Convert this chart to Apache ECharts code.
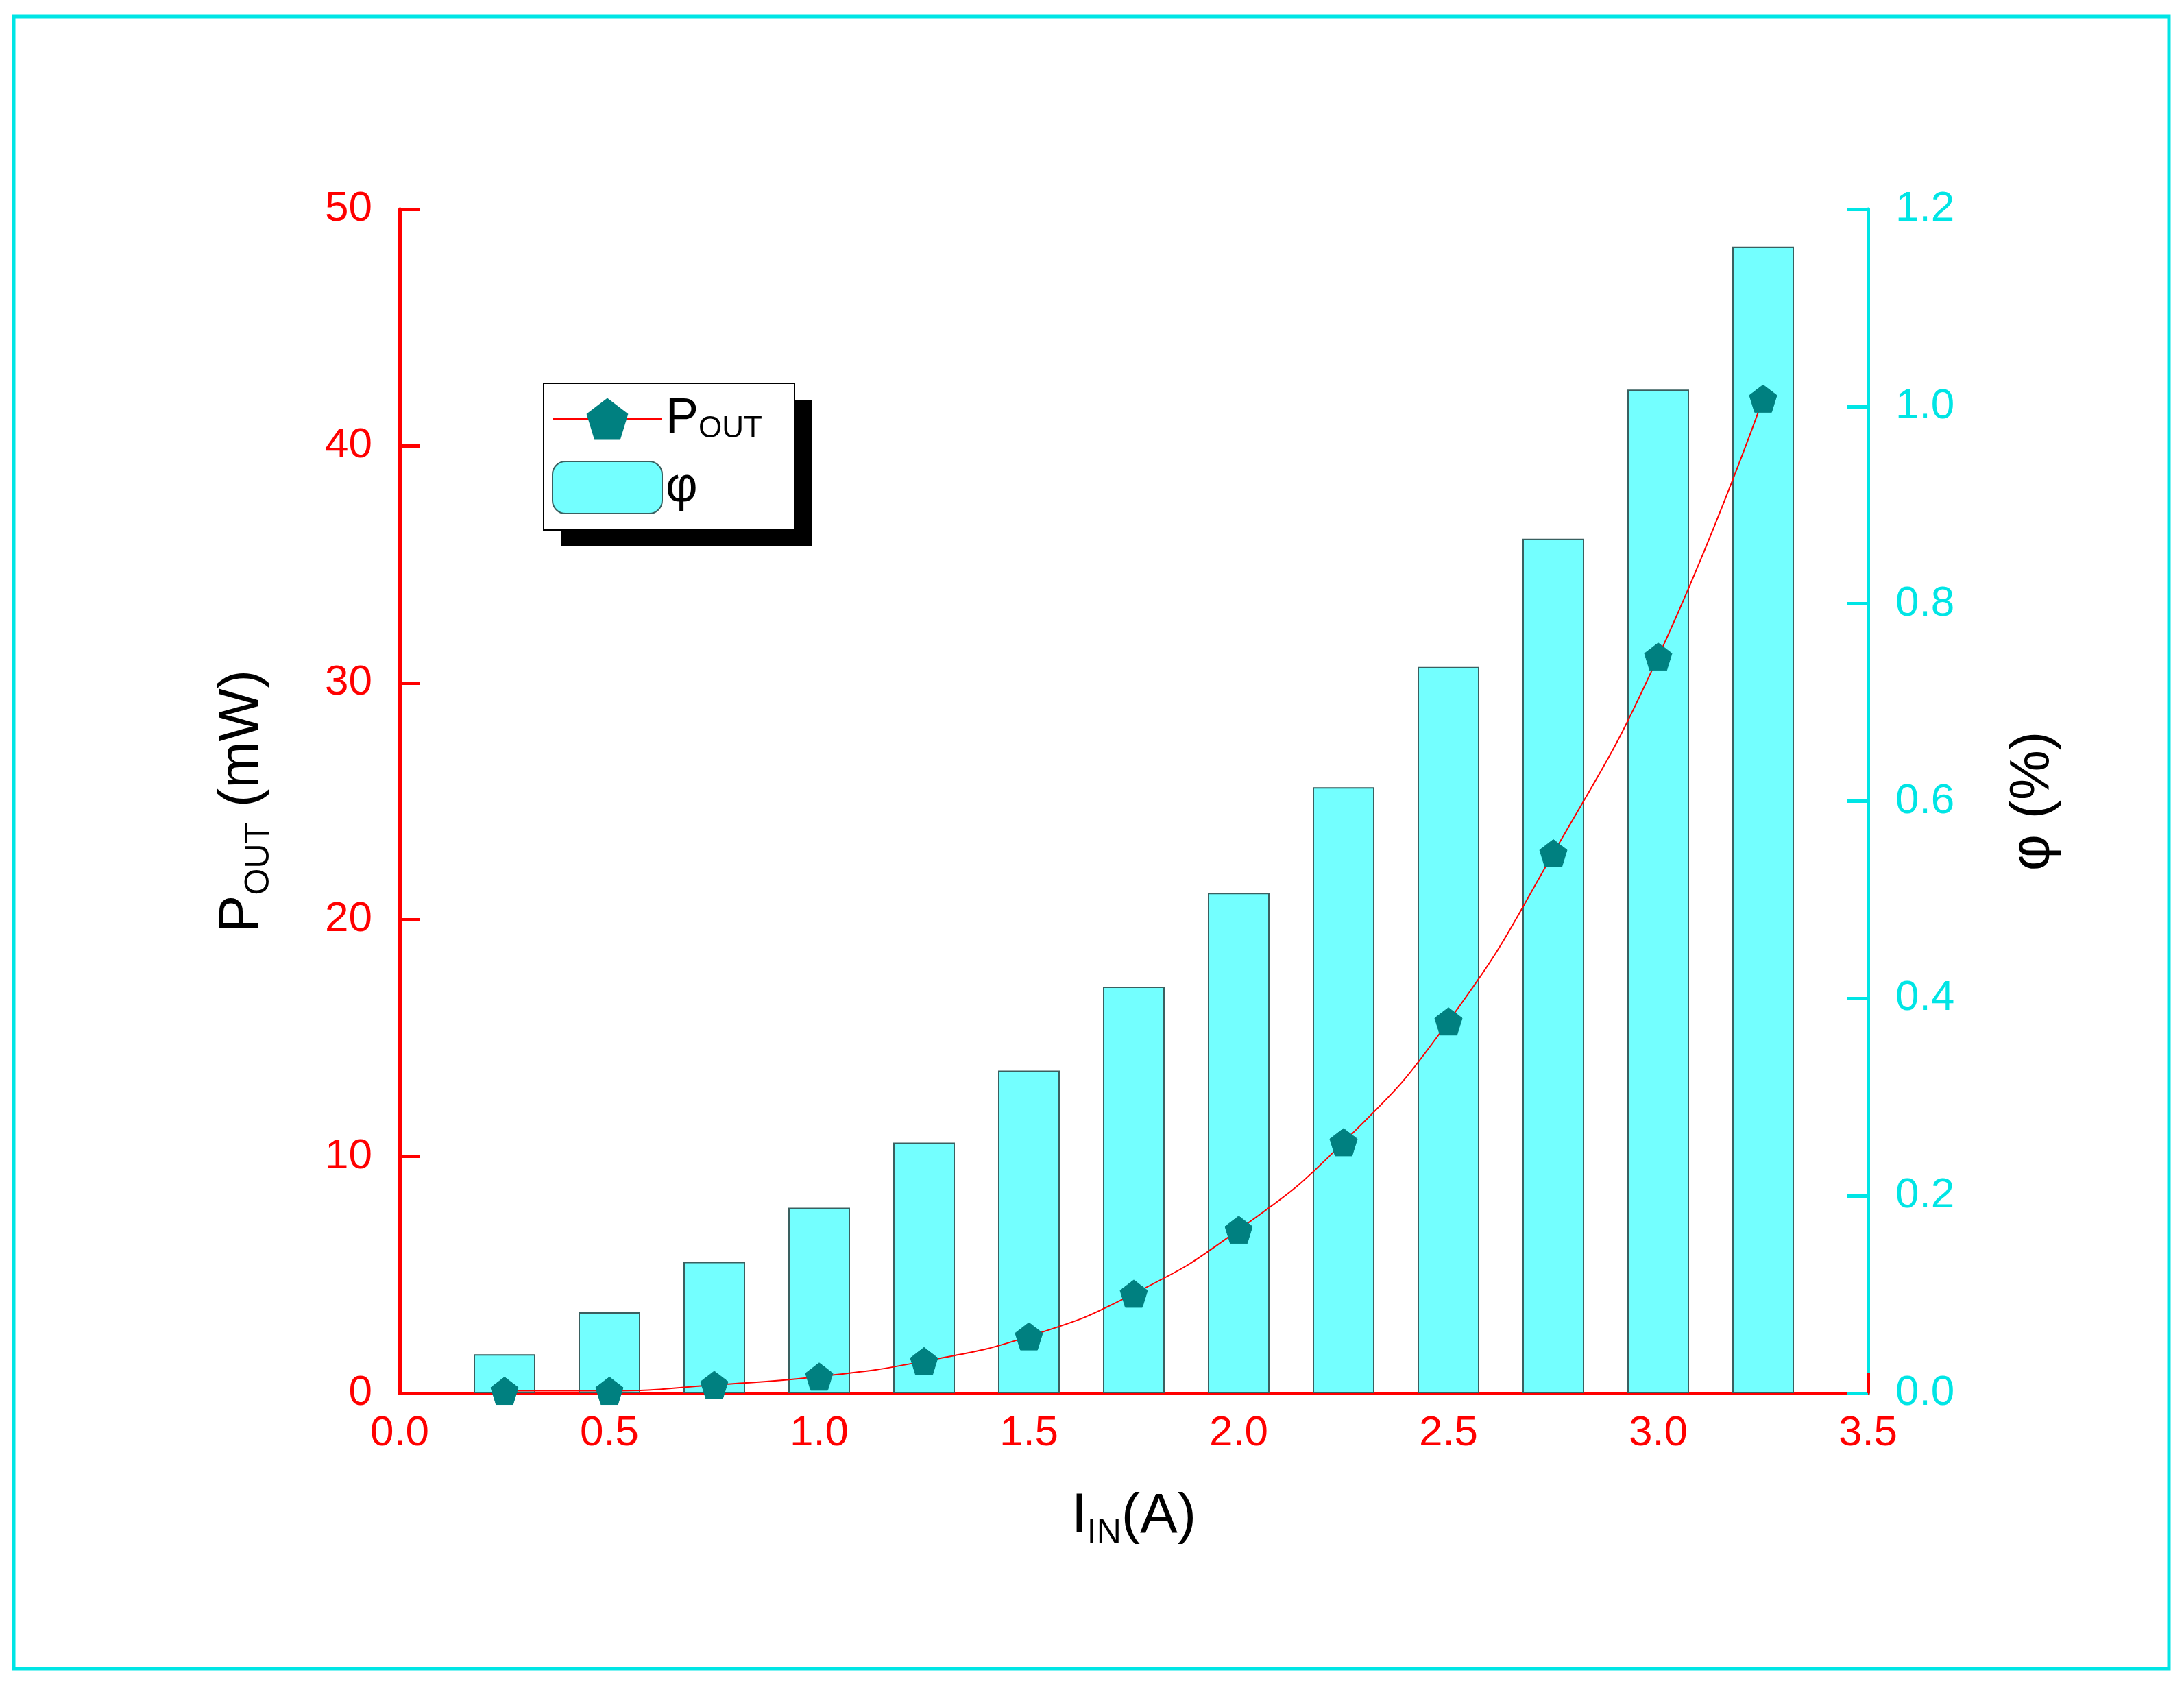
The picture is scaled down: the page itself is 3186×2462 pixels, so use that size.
<!DOCTYPE html><html><head><meta charset="utf-8">
<script src="https://cdn.jsdelivr.net/npm/echarts@6/dist/echarts.min.js"></script>
<style>html,body{margin:0;padding:0;background:#fff}#c{width:3186px;height:2462px}</style></head><body><div id="c"></div>
<script>
const currents=[0.25,0.5,0.75,1.0,1.25,1.5,1.75,2.0,2.25,2.5,2.75,3.0,3.25];
const pout=[0.1,0.1,0.35,0.7,1.35,2.4,4.2,6.9,10.6,15.7,22.8,31.1,42.0];
const phi=[0.0395,0.082,0.133,0.188,0.254,0.327,0.412,0.507,0.614,0.736,0.866,1.017,1.162];
const F='Liberation Sans';
const pent='path://M0,-10 L9.51,-3.09 L5.88,8.09 L-5.88,8.09 L-9.51,-3.09 Z';
const chart=echarts.init(document.getElementById('c'));
chart.setOption({
 animation:false,
 grid:{left:583,right:3186-2725,top:305,bottom:2462-2032,containLabel:false},
 graphic:[
  {type:'rect',shape:{x:20,y:24,width:3144,height:2410},style:{fill:'none',stroke:'#000',lineWidth:5}},
  {type:'rect',shape:{x:818,y:583,width:366,height:214},style:{fill:'#000'}},
  {type:'rect',shape:{x:793,y:559,width:366,height:214},style:{fill:'#fff',stroke:'#000',lineWidth:2}}
 ],
 legend:{left:800,top:570,orient:'vertical',itemWidth:160,itemHeight:76,itemGap:24,
  textStyle:{fontFamily:F,fontSize:72,color:'#000',rich:{s:{fontSize:44,fontFamily:F,verticalAlign:'bottom',padding:[30,0,0,0]},n:{fontSize:72,fontFamily:F}}},
  formatter:n=>n==='POUT'?'{n|P}{s|OUT}':'{n|φ}',
  data:['POUT','φ']},
 xAxis:{type:'value',min:0,max:3.5,interval:0.5,
  axisLine:{onZero:false,lineStyle:{color:'#ff0000',width:5}},
  axisTick:{inside:true,length:30,lineStyle:{color:'#ff0000',width:5}},
  axisLabel:{color:'#ff0000',fontFamily:F,fontSize:62,margin:28,formatter:v=>v.toFixed(1)},
  splitLine:{show:false},
  name:'{n|I}{s|IN}{n|(A)}',nameLocation:'middle',nameGap:130,
  nameTextStyle:{rich:{n:{fontFamily:F,fontSize:82,color:'#000'},s:{fontFamily:F,fontSize:50,color:'#000',padding:[50,0,0,0]}}}},
 yAxis:[
  {type:'value',min:0,max:50,interval:10,position:'left',
   axisLine:{show:true,lineStyle:{color:'#ff0000',width:5}},
   axisTick:{show:true,inside:true,length:30,lineStyle:{color:'#ff0000',width:5}},
   axisLabel:{color:'#ff0000',fontFamily:F,fontSize:62,margin:40},
   splitLine:{show:false},
   name:'{n|P}{s|OUT}{n| (mW)}',nameLocation:'middle',nameGap:180,nameRotate:90,
   nameTextStyle:{rich:{n:{fontFamily:F,fontSize:82,color:'#000'},s:{fontFamily:F,fontSize:50,color:'#000',padding:[50,0,0,0]}}}},
  {type:'value',min:0,max:1.2,interval:0.2,position:'right',
   axisLine:{show:true,lineStyle:{color:'#00e5e5',width:5}},
   axisTick:{show:true,inside:true,length:30,lineStyle:{color:'#00e5e5',width:5}},
   axisLabel:{color:'#00e5e5',fontFamily:F,fontSize:62,margin:40,formatter:v=>v.toFixed(1)},
   splitLine:{show:false},
   name:'φ (%)',nameLocation:'middle',nameGap:200,nameRotate:90,
   nameTextStyle:{fontFamily:F,fontSize:82,color:'#000'}}
 ],
 series:[
  {name:'φ',type:'bar',yAxisIndex:1,data:currents.map((x,i)=>[x,phi[i]]),barWidth:90,
   itemStyle:{color:'#73ffff',borderColor:'#3a6060',borderWidth:2},z:1},
  {name:'POUT',type:'line',yAxisIndex:0,data:currents.map((x,i)=>[x,pout[i]]),smooth:true,
   lineStyle:{color:'#ff0000',width:2},symbol:pent,symbolSize:40,
   itemStyle:{color:'#008080',borderColor:'#008080'},z:3}
 ]
});
// top border
chart.setOption({graphic:chart.getOption().graphic.concat([])});
</script>
<script>
// cyan top frame line
(function(){const c=echarts.getInstanceByDom(document.getElementById('c'));
const g=c.getOption().graphic[0].elements||[];
c.setOption({graphic:[{type:'line',shape:{x1:583,y1:305,x2:2725,y2:305},style:{stroke:'#00e5e5',lineWidth:5}}]});})();
</script>
</body></html>
